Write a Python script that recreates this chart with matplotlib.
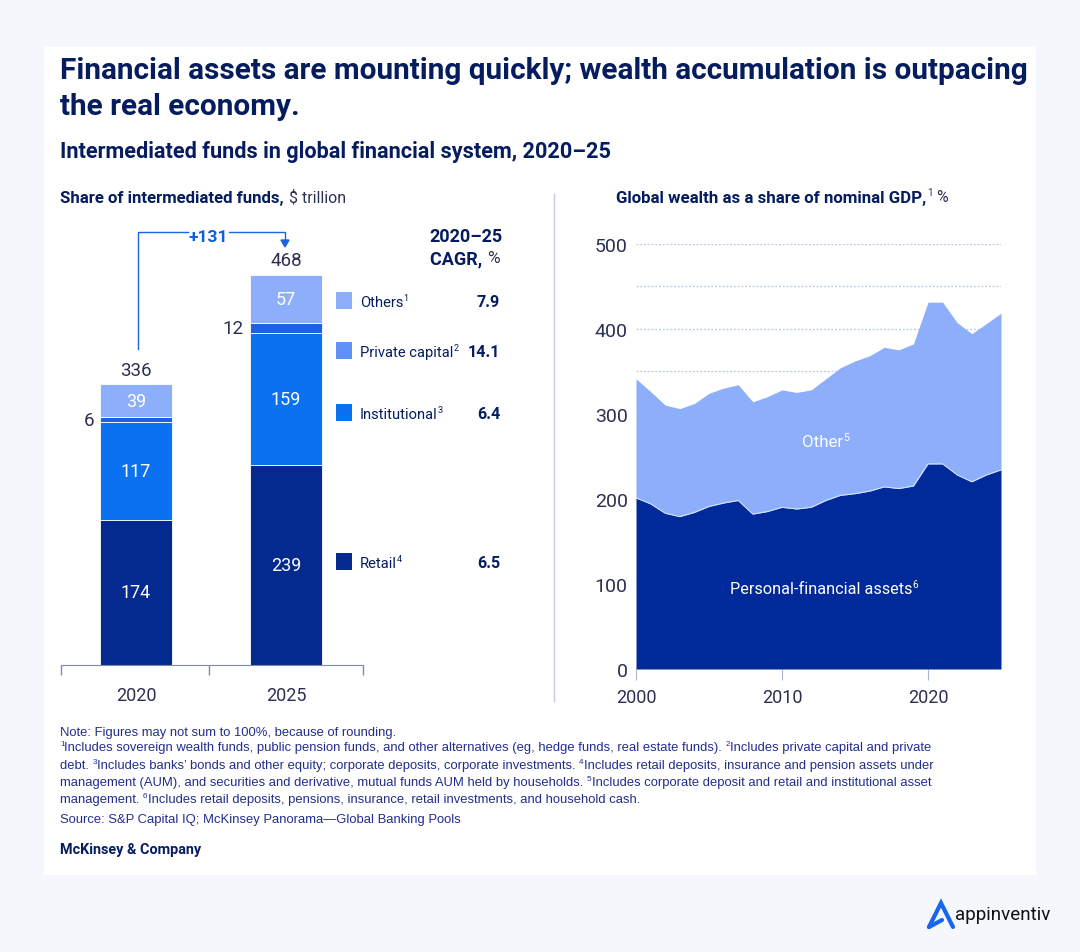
import matplotlib
matplotlib.use("Agg")
import matplotlib.pyplot as plt
from matplotlib.patches import Rectangle

# ----------------------------------------------------
# Data
# ----------------------------------------------------
bar_years = ["2020", "2025"]
retail = [174, 239]
institutional = [117, 159]
private_capital = [6, 12]
others = [39, 57]
bar_totals = [336, 468]

legend_names = ["Others", "Private capital", "Institutional", "Retail"]
legend_notes = ["1", "2", "3", "4"]
cagr_values = ["7.9", "14.1", "6.4", "6.5"]

wealth_years = list(range(2000, 2026))
personal_assets = [201, 194, 183, 179, 184, 191, 195, 198, 182, 185, 190, 188, 190,
                   198, 204, 206, 209, 214, 212, 215, 241, 241, 228, 220, 228, 234]
total_wealth = [341, 326, 310, 306, 312, 324, 330, 334, 314, 320, 328, 325, 328,
                341, 354, 362, 368, 378, 375, 382, 431, 431, 407, 394, 406, 418]
wealth_ticks = [0, 100, 200, 300, 400, 500]
wealth_grid = [350, 400, 450, 500]
year_ticks = [2000, 2010, 2020]

PAGE = "#F5F7FD"
NAVY = "#051C5E"
INK = "#2B3052"
NOTE = "#232E8C"
DARK = "#04298F"
INST = "#0A72F0"
PRIV = "#1F60E4"
LIGHT = "#8DAEFA"
LINE = "#7D8BB0"
W, H = 1080, 953

plt.rcParams["font.family"] = ["Roboto", "DejaVu Sans"]
light_font = "Roboto"
head_font = "Roboto"
note_font = "Liberation Sans"

fig = plt.figure(figsize=(W / 100, H / 100), dpi=100, facecolor=PAGE)


def px_axes(left, top, right, bottom):
    return fig.add_axes([left / W, 1 - bottom / H, (right - left) / W, (bottom - top) / H])


# overlays in pixel coordinates: panel below the charts, texts above them
bg = fig.add_axes([0, 0, 1, 1], zorder=0)
top = fig.add_axes([0, 0, 1, 1], zorder=5)
for a in [bg, top]:
    a.set_xlim(0, W)
    a.set_ylim(H, 0)
    a.axis("off")
bg.add_patch(Rectangle((44, 48), 992, 828, fc="white", ec="none"))


def rich(x, y, parts, size, color, family=light_font):
    # parts: (string, kind) with kind n=normal, b=bold, s=superscript
    r = fig.canvas.get_renderer()
    for s, kind in parts:
        is_sup = kind == "s"
        t = top.text(x, y - (size * 0.42 if is_sup else 0), s, fontsize=size * (0.62 if is_sup else 1),
                     color=color, family=family, va="center", ha="left",
                     fontweight="bold" if kind == "b" else "normal")
        x += t.get_window_extent(r).width
    return x


top.text(60, 71, "Financial assets are mounting quickly; wealth accumulation is outpacing",
         fontsize=21.4, fontweight="bold", color=NAVY, family=head_font, va="center")
top.text(60, 107, "the real economy.", fontsize=21.4, fontweight="bold", color=NAVY,
         family=head_font, va="center")
top.text(60, 152, "Intermediated funds in global financial system, 2020\u201325",
         fontsize=15.6, fontweight="bold", color=NAVY, family=head_font, va="center")

x = rich(60, 198, [("Share of intermediated funds, ", "b")], 12.1, NAVY, head_font)
rich(x + 1, 198, [("$ trillion", "n")], 11.4, INK)
x = rich(616, 198, [("Global wealth as a share of nominal GDP,", "b")], 12.2, NAVY, head_font)
x = rich(x + 1, 198, [("1", "s")], 11.4, INK)
rich(x + 3, 198, [("%", "n")], 11.4, INK)

# divider between the two panels
bg.plot([554, 554], [195, 702], color="#C5CCDD", lw=1)

# ----------------------------------------------------
# Left: stacked bars
# ----------------------------------------------------
ax = px_axes(61, 226, 363, 666)
ax.set_zorder(2)
ax.patch.set_alpha(0)
ax.set_xlim(-0.5, 1.513)
ax.set_ylim(0, 440 / 0.835)
pos = [0, 1]
bottom = [0, 0]
for vals, col in zip([retail, institutional, private_capital, others], [DARK, INST, PRIV, LIGHT]):
    ax.bar(pos, vals, bottom=bottom, width=0.48, color=col, edgecolor="white", linewidth=0.6)
    for i, v in enumerate(vals):
        if v > 20:
            ax.text(pos[i], bottom[i] + v / 2, str(v), color="white", fontsize=13,
                    ha="center", va="center")
    bottom = [b + v for b, v in zip(bottom, vals)]
for i, total in enumerate(bar_totals):
    ax.text(pos[i], total + 6, str(total), color=INK, fontsize=13.5, ha="center", va="bottom")
for i, v in enumerate(private_capital):
    y_mid = retail[i] + institutional[i] + v / 2
    ax.text(pos[i] - 0.28, y_mid, str(v), color=INK, fontsize=13.5, ha="right", va="center")
for side in ["top", "left", "right"]:
    ax.spines[side].set_visible(False)
ax.spines["bottom"].set_color(LINE)
ax.set_yticks([])
ax.set_xticks([-0.5, 0.487, 1.513])
ax.set_xticklabels([])
ax.tick_params(axis="x", which="major", length=7, color=LINE, width=1)
ax.set_xticks(pos, minor=True)
ax.set_xticklabels(bar_years, minor=True, fontsize=13, color=INK)
ax.tick_params(axis="x", which="minor", length=0, pad=15)

# +131 bracket
BLUE = "#1A66E0"
bg.plot([138, 138, 188], [350, 233, 233], color=BLUE, lw=1)
bg.plot([229, 285, 285], [233, 233, 244], color=BLUE, lw=1)
bg.fill([281, 289, 285], [241, 241, 248], color=BLUE)
top.text(208, 237, "+131", color="#0F5FDC", fontsize=12.6, fontweight="bold", family=head_font,
         ha="center", va="center")

# CAGR heading and legend column
top.text(503, 237, "2020\u201325", color=NAVY, fontsize=13, fontweight="bold", family=head_font,
         ha="right", va="center")
x = rich(430, 259, [("CAGR, ", "b")], 13, NAVY, head_font)
rich(x, 259, [("%", "n")], 12.5, INK)

legend_y = [302, 352, 414, 563]
legend_cols = [LIGHT, "#5E93F5", INST, DARK]
for name, note, value, yy, col in zip(legend_names, legend_notes, cagr_values, legend_y, legend_cols):
    bg.add_patch(Rectangle((336, yy - 9), 16, 17, fc=col, ec="none"))
    rich(360, yy + 1, [(name, "n"), (note, "s")], 10.6, NAVY)
    top.text(500, yy + 1, value, color=NAVY, fontsize=11.6, fontweight="bold", family=head_font,
             ha="right", va="center")

# ----------------------------------------------------
# Right: stacked area
# ----------------------------------------------------
ax2 = px_axes(636, 244.5, 1001, 670)
ax2.set_zorder(2)
ax2.patch.set_alpha(0)
ax2.set_xlim(2000, 2025)
ax2.set_ylim(0, 500)
for g in wealth_grid:
    ax2.axhline(g, color="#B9C6EC", lw=0.9, ls=(0, (1.5, 1.5)), zorder=1)
ax2.fill_between(wealth_years, personal_assets, total_wealth, color=LIGHT, lw=0, zorder=2)
ax2.fill_between(wealth_years, 0, personal_assets, color="#00299A", lw=0, zorder=3)
ax2.plot(wealth_years, personal_assets, color="#DCE6FF", lw=0.7, zorder=4)
for side in ["top", "left", "right", "bottom"]:
    ax2.spines[side].set_visible(False)
ax2.set_yticks(wealth_ticks)
ax2.set_xticks(year_ticks)
ax2.tick_params(axis="y", length=0, pad=6, labelsize=14, labelcolor=INK)
ax2.tick_params(axis="x", length=8, color="#AAB4CC", width=0.8, pad=6, labelsize=13, labelcolor=INK)
rich(802, 443, [("Other", "n"), ("5", "s")], 12.2, "white")
rich(730, 590, [("Personal-financial assets", "n"), ("6", "s")], 11.7, "white")

# ----------------------------------------------------
# Notes and source
# ----------------------------------------------------
note_size = 9.4
top.text(60, 733, "Note: Figures may not sum to 100%, because of rounding.", fontsize=note_size,
         color=NOTE, family=note_font, va="center")
note_lines = [
    (748, [("1", "s"), ("Includes sovereign wealth funds, public pension funds, and other alternatives (eg, hedge funds, real estate funds). ", "n"),
           ("2", "s"), ("Includes private capital and private", "n")]),
    (766, [("debt. ", "n"), ("3", "s"), ("Includes banks\u2019 bonds and other equity; corporate deposits, corporate investments. ", "n"),
           ("4", "s"), ("Includes retail deposits, insurance and pension assets under", "n")]),
    (783, [("management (AUM), and securities and derivative, mutual funds AUM held by households. ", "n"),
           ("5", "s"), ("Includes corporate deposit and retail and institutional asset", "n")]),
    (800, [("management. ", "n"), ("6", "s"), ("Includes retail deposits, pensions, insurance, retail investments, and household cash.", "n")]),
]
for yy, parts in note_lines:
    rich(60, yy, parts, note_size, NOTE, note_font)
top.text(60, 820, "Source: S&P Capital IQ; McKinsey Panorama\u2014Global Banking Pools", fontsize=note_size,
         color=NOTE, family=note_font, va="center")
top.text(60, 850, "McKinsey & Company", fontsize=10.4, fontweight="bold", color=NAVY, family=head_font, va="center")

# appinventiv mark, bottom right
bg.plot([929, 941, 953], [928, 904, 928], color="#1766F0", lw=3, solid_capstyle="round", solid_joinstyle="miter")
bg.plot([929, 942], [928, 921], color="#1766F0", lw=3, solid_capstyle="round")
top.text(955, 915, "appinventiv", fontsize=13.5, color="#111111", family="Roboto", va="center")

fig.savefig("out.png", dpi=100, facecolor=PAGE)
